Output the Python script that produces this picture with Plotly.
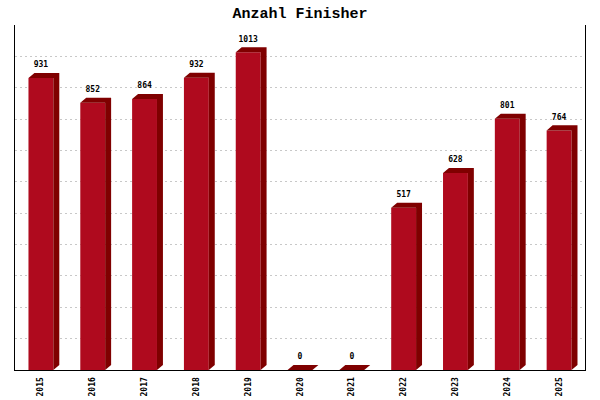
import plotly.graph_objects as go

years = ["2015", "2016", "2017", "2018", "2019", "2020", "2021", "2022", "2023", "2024", "2025"]
finisher = [931, 852, 864, 932, 1013, 0, 0, 517, 628, 801, 764]

FRONT = "#AF0A1E"
DARK = "#7F0000"
BAR_W = 0.48
DX = 0.115   # depth offset in category units (~6px)
DY = 16      # depth offset in value units (~5px)
LABEL_PAD = 12  # extra lift of value labels in value units

xs = list(range(len(years)))

# 3D top + side faces built from the data values
px, py = [], []
for i, v in zip(xs, finisher):
    x0, x1 = i - BAR_W / 2, i + BAR_W / 2
    px += [x0, x0 + DX, x1 + DX, x1 + DX, x1, x1, x0, None]
    py += [v, v + DY, v + DY, DY, 0, v, v, None]

fig = go.Figure()
fig.add_trace(go.Bar(x=xs, y=finisher, width=BAR_W, marker=dict(color=FRONT, line=dict(width=0)),
                     hoverinfo="skip"))
fig.add_trace(go.Scatter(x=px, y=py, mode="lines", fill="toself", fillcolor=DARK,
                         line=dict(width=0, color=DARK), hoverinfo="skip"))
fig.add_trace(go.Scatter(x=xs, y=[v + DY + LABEL_PAD for v in finisher], mode="text",
                         text=[str(v) for v in finisher], textposition="top center",
                         textfont=dict(family="DejaVu Sans Mono", size=8, color="black", weight="bold"),
                         hoverinfo="skip", cliponaxis=False))

fig.update_layout(
    width=600, height=400,
    margin=dict(l=15, r=15, t=25, b=30, autoexpand=False),
    paper_bgcolor="white", plot_bgcolor="white",
    showlegend=False,
    title=dict(text="<b>Anzahl Finisher</b>", x=0.5, xanchor="center", y=0.967, yanchor="middle",
               font=dict(family="Liberation Mono", size=15, color="black")),
    xaxis=dict(range=[-0.5, 10.5], tickvals=xs, ticktext=years, tickangle=-90,
               showgrid=False, zeroline=False, showline=True, linecolor="black", linewidth=1,
               ticks="", ticklabelstandoff=3, automargin=False,
               tickfont=dict(family="DejaVu Sans Mono", size=8, color="black", weight="bold"),
               fixedrange=True),
    yaxis=dict(range=[0, 1100], dtick=100, showticklabels=False, ticks="",
               showgrid=True, gridcolor="#C8C8C8", griddash="2px,3px", gridwidth=1,
               zeroline=False, showline=True, mirror=True, linecolor="black", linewidth=1,
               automargin=False, fixedrange=True),
)

fig.write_html("out.html", config={"displayModeBar": False},
               post_script="document.body.style.margin='0';")
